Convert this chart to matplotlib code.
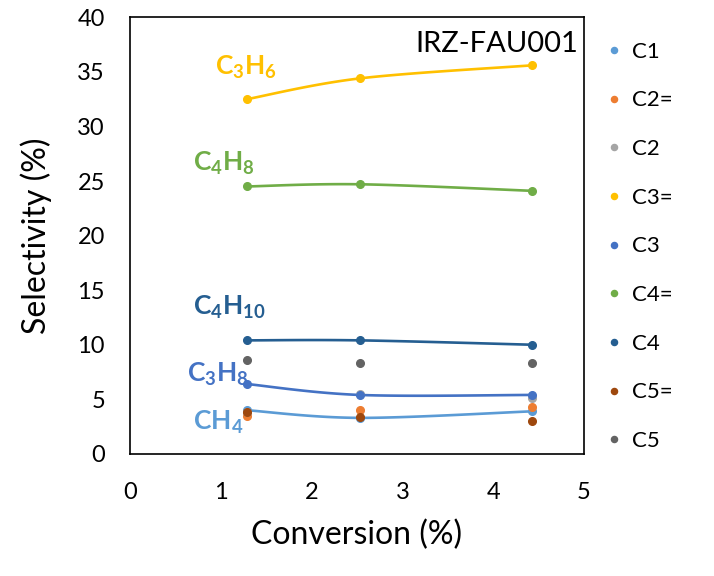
import numpy as np
import matplotlib
matplotlib.use("Agg")
import matplotlib.pyplot as plt

plt.rcParams['font.family'] = ['Lato', 'DejaVu Sans']
plt.rcParams['mathtext.fontset'] = 'custom'
plt.rcParams['mathtext.rm'] = 'Lato'
plt.rcParams['mathtext.bf'] = 'Lato:bold'

# conversion (%) for the three runs
conversion = [1.29, 2.53, 4.43]

series_names = ["C1", "C2=", "C2", "C3=", "C3", "C4=", "C4", "C5=", "C5"]
c1 = [4.0, 3.3, 3.9]
c2_ene = [3.5, 4.0, 4.3]
c2 = [3.8, 5.5, 5.1]
c3_ene = [32.5, 34.4, 35.6]
c3 = [6.4, 5.4, 5.4]
c4_ene = [24.5, 24.7, 24.1]
c4 = [10.4, 10.4, 10.0]
c5_ene = [3.8, 3.4, 3.0]
c5 = [8.6, 8.3, 8.3]
series_values = [c1, c2_ene, c2, c3_ene, c3, c4_ene, c4, c5_ene, c5]

colors = ["#5B9BD5", "#ED7D31", "#A5A5A5", "#FFC000", "#4472C4",
          "#70AD47", "#255E91", "#9E480E", "#636363"]
# which series get a smoothed line
smoothed = {"C1", "C3=", "C3", "C4=", "C4"}

# in-plot labels: (series, text, x, y)
labels = [
    ("C3=", r"$\mathbf{C_3H_6}$", 0.94, 34.7),
    ("C4=", r"$\mathbf{C_4H_8}$", 0.69, 25.9),
    ("C4", r"$\mathbf{C_4H_{10}}$", 0.69, 12.7),
    ("C3", r"$\mathbf{C_3H_8}$", 0.63, 6.6),
    ("C1", r"$\mathbf{CH_4}$", 0.69, 2.2),
]


def smooth_curve(x, y, n=40):
    # excel-like smoothed line: cubic bezier with catmull-rom control points
    x = np.asarray(x, float)
    y = np.asarray(y, float)
    px = np.concatenate([[x[0]], x, [x[-1]]])
    py = np.concatenate([[y[0]], y, [y[-1]]])
    xs, ys = [], []
    t = np.linspace(0, 1, n)
    for i in range(1, len(px) - 2):
        p0 = np.array([px[i], py[i]])
        p3 = np.array([px[i + 1], py[i + 1]])
        c1_ = p0 + (np.array([px[i + 1], py[i + 1]]) - np.array([px[i - 1], py[i - 1]])) / 6
        c2_ = p3 - (np.array([px[i + 2], py[i + 2]]) - np.array([px[i], py[i]])) / 6
        b = ((1 - t) ** 3)[:, None] * p0 + (3 * (1 - t) ** 2 * t)[:, None] * c1_ \
            + (3 * (1 - t) * t ** 2)[:, None] * c2_ + (t ** 3)[:, None] * p3
        xs.extend(b[:, 0])
        ys.extend(b[:, 1])
    return xs, ys


fig = plt.figure(figsize=(7.14, 5.76), dpi=100)
ax = fig.add_axes([0.182, 0.212, 0.636, 0.758])

for name, vals, col in zip(series_names, series_values, colors):
    if name in smoothed:
        sx, sy = smooth_curve(conversion, vals)
        ax.plot(sx, sy, color=col, lw=1.9, zorder=2)
    ax.plot(conversion, vals, 'o', color=col, ms=5.5, label=name, zorder=3)

for name, txt, tx, ty in labels:
    col = colors[series_names.index(name)]
    ax.text(tx, ty, txt, color=col, fontsize=19)

ax.text(0.988, 0.939, "IRZ-FAU001", transform=ax.transAxes, ha='right',
        va='center', fontsize=21)

ax.set_xlim(0, 5)
ax.set_ylim(0, 40)
ax.set_xticks(range(0, 6))
ax.set_yticks(range(0, 41, 5))
ax.tick_params(length=0, labelsize=17)
ax.tick_params(axis='x', pad=20)
ax.tick_params(axis='y', pad=18)
for s in ax.spines.values():
    s.set_color('black')
    s.set_linewidth(1.2)

ax.set_xlabel("Conversion (%)", fontsize=23, labelpad=12)
ax.set_ylabel("Selectivity (%)", fontsize=23, labelpad=18)

ax.legend(loc='center left', bbox_to_anchor=(1.0, 0.475), frameon=False,
          fontsize=16, labelspacing=1.29, handlelength=0.6, handletextpad=0.5,
          markerscale=0.8, borderaxespad=0.67)

fig.savefig("out.png", dpi=100)
